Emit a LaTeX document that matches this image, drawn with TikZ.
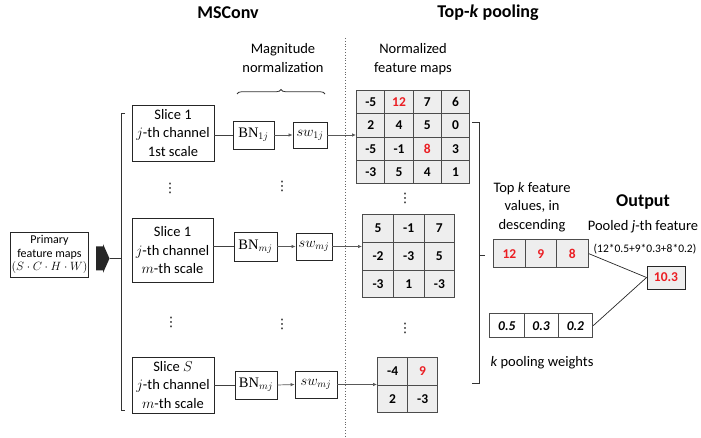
\documentclass[tikz,border=0pt]{standalone}
\usepackage{fontspec}
\setmainfont{Carlito}
\newfontfamily\dvfont{DejaVu Sans}
\newfontfamily\bnfont{Liberation Serif}
\usetikzlibrary{arrows.meta,decorations.pathreplacing,matrix}
\definecolor{redv}{RGB}{235,30,35}
\definecolor{cellgray}{RGB}{238,238,238}
\newcommand{\szmain}{\fontsize{14.5}{18.5}\selectfont}
\newcommand{\szhead}{\fontsize{18}{22}\selectfont}
\newcommand{\szsmall}{\fontsize{12}{13.5}\selectfont}
\newcommand{\sztiny}{\fontsize{11.5}{13}\selectfont}
\newcommand{\szcell}{\fontsize{13.5}{16}\selectfont}
\begin{document}
\begin{tikzpicture}[x=1pt,y=-1pt,
  box/.style={draw=black!85,line width=0.8pt,fill=white,inner sep=1pt,align=center,font=\szmain},
  cellgrid/.style={matrix of nodes,inner sep=0pt,
    nodes={draw=black!70,line width=0.9pt,fill=cellgray,font=\szcell\bfseries,anchor=center,inner sep=0pt},
    column sep=-0.9pt,row sep=-0.9pt},
  conn/.style={draw=black!65,line width=0.7pt},
  arr/.style={conn,-{Latex[length=4pt,width=3.5pt]}},
  lbl/.style={align=center,font=\szmain,inner sep=0pt},
  head/.style={font=\szhead\bfseries,inner sep=0pt},
  vd/.style={inner sep=0pt,font=\dvfont\fontsize{13}{13}\selectfont}]
\useasboundingbox (0,0) rectangle (701,438);

% headers
\node[head] (hms) at (228,13) {MSConv};
\node[head] (htk) at (488,13) {Top-\textit{k} pooling};

% primary
\node[box,font=\szsmall,minimum width=75pt,minimum height=45pt] (prim) at (49.5,254.5) {Primary\\feature maps\\$(S\cdot C\cdot H\cdot W)$};
\fill[black!85] (96,246.5) -- (103,246.5) -- (103,244) -- (109.5,258.5) -- (103,273) -- (103,270.5) -- (96,270.5) -- cycle;
\coordinate (arrtip) at (109.5,258.5);
\coordinate (lbr) at (121,258.5);
\draw[conn,draw=black!80] (arrtip) -- (lbr);
\draw[black!80,line width=0.8pt] (125,113) -- (121,113) -- (121,410) -- (125,410);

% slices
\node[box,minimum width=82pt,minimum height=56pt] (s1) at (173,133) {Slice 1\\$j$-th channel\\1st scale};
\node[box,minimum width=81pt,minimum height=64pt] (s2) at (172.5,250.5) {Slice 1\\$j$-th channel\\$m$-th scale};
\node[box,minimum width=82pt,minimum height=56pt] (s3) at (173,385) {Slice $S$\\$j$-th channel\\$m$-th scale};

% BN
\node[box,minimum width=41pt,minimum height=28pt] (b1) at (253.5,135) {{\bnfont BN}$_{1j}$};
\node[box,minimum width=43pt,minimum height=29pt] (b2) at (255.5,246.5) {{\bnfont BN}$_{mj}$};
\node[box,minimum width=42pt,minimum height=28pt] (b3) at (256,385) {{\bnfont BN}$_{mj}$};

% sw
\node[box,minimum width=34pt,minimum height=26pt] (w1) at (310,135) {$sw_{1j}$};
\node[box,minimum width=36pt,minimum height=27pt] (w2) at (314,246.5) {$sw_{mj}$};
\node[box,minimum width=42pt,minimum height=27pt] (w3) at (316,384.5) {$sw_{mj}$};

% dots
\node[vd] (d1) at (170,188) {⋮};
\node[vd] (d2) at (282,186) {⋮};
\node[vd] (d3) at (171,322) {⋮};
\node[vd] (d4) at (282,324) {⋮};
\node[vd] (d5) at (405,198) {⋮};
\node[vd] (d6) at (405,328) {⋮};

% magnitude normalization
\node[lbl] (magn) at (283,58) {Magnitude\\normalization};
\draw[black!80,line width=0.8pt,decorate,decoration={brace,amplitude=4.5pt}] (237,94) -- (325,94);

% dotted divider
\draw[black!60,dotted,line width=0.8pt] (345,38) -- (345,438);

% normalized feature maps
\node[lbl] (nfm) at (413,59) {Normalized\\feature maps};

\matrix (g1) [cellgrid,anchor=north west,nodes={minimum width=28.25pt,minimum height=23.25pt}] at (356,90) {
-5 & |[text=redv]|12 & 7 & 6\\
2 & 4 & 5 & 0\\
-5 & -1 & |[text=redv]|8 & 3\\
-3 & 5 & 4 & 1\\
};
\matrix (g2) [cellgrid,anchor=north west,nodes={minimum width=30.7pt,minimum height=27.7pt}] at (362,214) {
5 & -1 & 7\\
-2 & -3 & 5\\
-3 & 1 & -3\\
};
\matrix (g3) [cellgrid,anchor=north west,nodes={minimum width=30pt,minimum height=27.5pt}] at (377,357) {
-4 & |[text=redv]|9\\
2 & -3\\
};

% connectors
\draw[conn,draw=black!75] (s1.east |- b1.west) -- (b1.west);
\draw[conn,draw=black!75] (s2.east |- b2.west) -- (b2.west);
\draw[conn,draw=black!75] (s3.east |- b3.west) -- (b3.west);
\draw[arr] (b1.east) -- (w1.west);
\draw[arr] (b2.east) -- (w2.west);
\draw[arr] (b3.east) -- (w3.west);
\draw[arr] (w1.east) -- (w1.east -| g1.west);
\draw[arr] (w2.east) -- (w2.east -| g2.west);
\draw[arr] (w3.east) -- (w3.east -| g3.west);

% right bracket
\draw[black!80,line width=0.8pt] (472,122) -- (479,122) -- (479,383) -- (472,383);
\coordinate (rbr) at (479,255);
\coordinate (rtick) at (485,255);
\draw[black!80,line width=0.8pt] (rbr) -- (rtick);

% top k
\node[lbl] (tkl) at (532,207) {Top \textit{k} feature\\values, in\\descending};
\matrix (tk) [cellgrid,anchor=north west,nodes={minimum width=31.5pt,minimum height=28pt,text=redv}] at (493,239) {
12 & 9 & 8\\
};
\matrix (wt) [cellgrid,anchor=north west,nodes={minimum width=34.3pt,minimum height=24pt,fill=white,font=\szcell\bfseries\itshape}] at (489,313) {
0.5 & 0.3 & 0.2\\
};
\node[lbl] (kpw) at (542,363) {\textit{k} pooling weights};

% output
\node[head] (outl) at (643,202) {Output};
\node[lbl] (pjf) at (643,227) {Pooled \textit{j}-th feature};
\node[lbl,font=\sztiny] (form) at (645,249) {(12*0.5+9*0.3+8*0.2)};
\node[draw=black!85,line width=0.9pt,fill=cellgray,minimum width=38pt,minimum height=23pt,inner sep=0pt,font=\szcell\bfseries,text=redv] (out) at (666,277.5) {10.3};
\draw[black!85,line width=0.7pt] (tk.east) -- (out.west);
\draw[black!85,line width=0.7pt] (wt.east) -- (out.west);
\end{tikzpicture}
\end{document}
